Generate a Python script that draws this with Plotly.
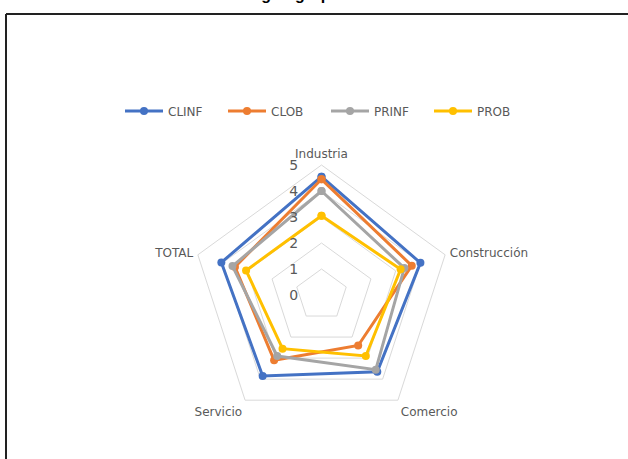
import plotly.graph_objects as go

# Categories of the radar (clockwise from the top)
categories = ["Industria", "Construcción", "Comercio", "Servicio", "TOTAL"]

# Series values per category
clinf = [4.55, 4.0, 3.65, 3.85, 4.05]
clob = [4.45, 3.65, 2.4, 3.1, 3.5]
prinf = [4.0, 3.35, 3.55, 2.9, 3.6]
prob = [3.05, 3.2, 2.9, 2.55, 3.05]

series_names = ["CLINF", "CLOB", "PRINF", "PROB"]
series_values = [clinf, clob, prinf, prob]
series_colors = ["#4472C4", "#ED7D31", "#A5A5A5", "#FFC000"]

radial_ticks = [0, 1, 2, 3, 4, 5]

W, H = 628, 459
cx, cy, R = 321.5, 295.0, 130.0

fig = go.Figure()
for name, vals, col in zip(series_names, series_values, series_colors):
    fig.add_trace(go.Scatterpolar(
        r=vals + vals[:1],
        theta=categories + categories[:1],
        mode="lines+markers",
        name=name,
        line=dict(color=col, width=3),
        marker=dict(color=col, size=8, symbol="circle"),
    ))

label_family = "DejaVu Sans, Open Sans, sans-serif"

fig.update_layout(
    width=W, height=H,
    margin=dict(l=0, r=0, t=0, b=0),
    paper_bgcolor="white",
    plot_bgcolor="white",
    showlegend=True,
    legend=dict(
        orientation="h", x=120 / W, xanchor="left",
        y=1 - 111 / H, yanchor="middle",
        font=dict(family=label_family, size=12, color="#595959"),
        itemwidth=38, entrywidth=50, entrywidthmode="pixels",
        bgcolor="rgba(0,0,0,0)",
    ),
    polar=dict(
        domain=dict(x=[(cx - R) / W, (cx + R) / W],
                    y=[(H - cy - R) / H, (H - cy + R) / H]),
        bgcolor="rgba(0,0,0,0)",
        gridshape="linear",
        angularaxis=dict(
            rotation=90, direction="clockwise",
            showgrid=False, showline=True, linecolor="#D9D9D9", linewidth=1,
            ticks="outside", ticklen=2, tickcolor="rgba(0,0,0,0)",
            tickfont=dict(family=label_family, size=12, color="#595959"),
        ),
        radialaxis=dict(
            range=[0, 5], tickvals=radial_ticks, ticktext=[str(t) for t in radial_ticks],
            angle=90, tickangle=90, side="counterclockwise",
            showline=False, ticks="outside", ticklen=18, tickcolor="rgba(0,0,0,0)",
            gridcolor="#D9D9D9", gridwidth=1,
            tickfont=dict(family=label_family, size=14, color="#595959"),
        ),
    ),
    shapes=[
        dict(type="line", xref="paper", yref="paper", x0=6 / W, x1=1, y0=1 - 14 / H, y1=1 - 14 / H,
             line=dict(color="#222222", width=2)),
        dict(type="line", xref="paper", yref="paper", x0=6 / W, x1=6 / W, y0=0, y1=1 - 14 / H,
             line=dict(color="#222222", width=2)),
    ],
    annotations=[
        dict(text="<b>Perfil según grupo</b>", xref="paper", yref="paper",
             x=270 / W, y=1, xanchor="center", yanchor="bottom", yshift=-5, showarrow=False,
             font=dict(family="Liberation Sans, Arial, sans-serif", size=16, color="#000000")),
    ],
)

fig.write_html("out.html")
